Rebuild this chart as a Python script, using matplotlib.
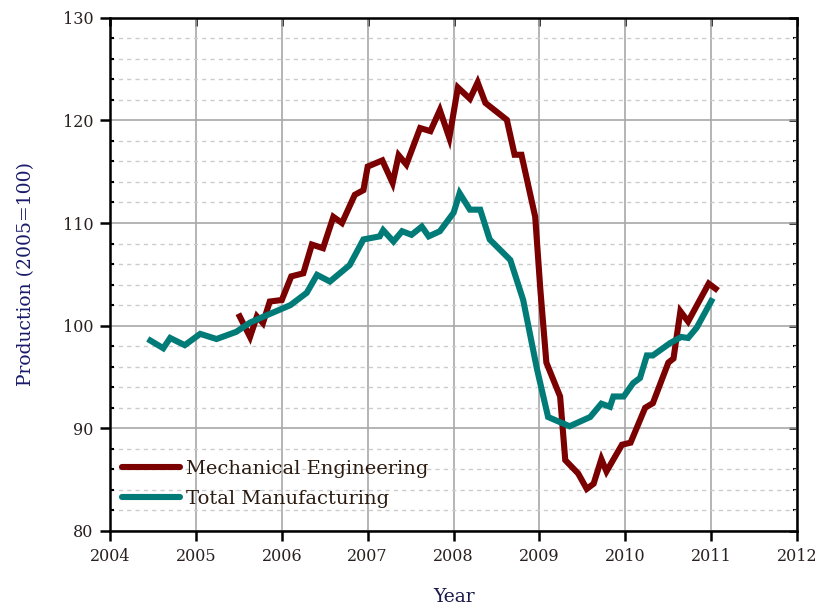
import matplotlib
matplotlib.use('Agg')
import matplotlib.pyplot as plt
from matplotlib.ticker import MultipleLocator

plt.rcParams.update({'font.family': 'serif'})
plt.rcParams.update({'font.serif': ['DejaVu Serif', 'Liberation Serif']})

# data (decimal year, index 2005=100)
tm_year = [2004.47, 2004.62, 2004.70, 2004.87, 2005.05, 2005.24, 2005.47, 2005.63,
           2005.82, 2006.10, 2006.29, 2006.41, 2006.56, 2006.79, 2006.95, 2007.14,
           2007.18, 2007.30, 2007.40, 2007.51, 2007.63, 2007.71, 2007.84, 2008.00,
           2008.07, 2008.19, 2008.31, 2008.42, 2008.66, 2008.81, 2008.97, 2009.10,
           2009.35, 2009.59, 2009.72, 2009.82, 2009.86, 2009.98, 2010.09, 2010.17,
           2010.25, 2010.32, 2010.52, 2010.65, 2010.73, 2010.83, 2011.00]
tm_val = [98.55, 97.8, 98.8, 98.1, 99.2, 98.7, 99.4, 100.3,
          101.0, 102.0, 103.2, 104.95, 104.3, 105.9, 108.4, 108.7,
          109.3, 108.2, 109.2, 108.85, 109.65, 108.7, 109.2, 111.0,
          112.9, 111.3, 111.3, 108.4, 106.4, 102.5, 95.8, 91.1,
          90.2, 91.1, 92.4, 92.1, 93.1, 93.1, 94.4, 94.9,
          97.1, 97.1, 98.3, 98.9, 98.8, 99.8, 102.4]

me_year = [2005.51, 2005.63, 2005.71, 2005.78, 2005.86, 2006.00, 2006.11, 2006.25,
           2006.35, 2006.48, 2006.60, 2006.70, 2006.85, 2006.95, 2007.00, 2007.17,
           2007.29, 2007.36, 2007.45, 2007.61, 2007.73, 2007.84, 2007.95, 2008.05,
           2008.19, 2008.28, 2008.37, 2008.62, 2008.71, 2008.79, 2008.95, 2009.01,
           2009.08, 2009.24, 2009.30, 2009.45, 2009.55, 2009.63, 2009.72, 2009.78,
           2009.96, 2010.06, 2010.23, 2010.32, 2010.50, 2010.56, 2010.64, 2010.73,
           2010.97, 2011.05]
me_val = [100.9, 98.9, 100.9, 100.25, 102.35, 102.5, 104.8, 105.1,
          107.9, 107.55, 110.6, 110.0, 112.75, 113.2, 115.5, 116.1,
          113.9, 116.6, 115.7, 119.25, 118.95, 121.0, 118.3, 123.2,
          122.1, 123.7, 121.7, 120.05, 116.65, 116.65, 110.6, 103.5,
          96.4, 93.1, 86.9, 85.6, 84.1, 84.6, 87.0, 85.8,
          88.4, 88.6, 92.0, 92.45, 96.4, 96.8, 101.4, 100.4,
          104.1, 103.6]

x_ticks = [2004, 2005, 2006, 2007, 2008, 2009, 2010, 2011, 2012]
y_ticks = [80, 90, 100, 110, 120, 130]

fig = plt.figure(figsize=(8.21, 6.11), dpi=100)
ax = fig.add_axes([0.134, 0.131, 0.837, 0.840])

ax.plot(me_year, me_val, color='#7b0000', lw=4.4, solid_joinstyle='miter',
        label='Mechanical Engineering', zorder=3)
ax.plot(tm_year, tm_val, color='#007b78', lw=4.4, solid_joinstyle='miter',
        label='Total Manufacturing', zorder=3)

ax.set_xlim(2004, 2012)
ax.set_ylim(80, 130)
ax.set_xticks(x_ticks)
ax.set_yticks(y_ticks)
ax.yaxis.set_minor_locator(MultipleLocator(2))

ax.grid(True, which='major', color='#a8a8a8', lw=1.2, ls='-')
ax.grid(True, which='minor', axis='y', color='#cccccc', lw=1.0, ls=(0, (3, 3)))
ax.set_axisbelow(True)

for s in ax.spines.values():
    s.set_linewidth(1.8)
    s.set_color('black')

ax.tick_params(which='major', direction='out', length=7, width=1.8, pad=5,
               labelsize=11.5, labelcolor='#2a2020')
ax.tick_params(axis='y', which='minor', direction='in', length=3, width=1.5)

top = ax.secondary_xaxis('top')
top.set_xticks(x_ticks)
top.tick_params(direction='in', length=6, width=1.8, labeltop=False)
right = ax.secondary_yaxis('right')
right.set_yticks(y_ticks)
right.yaxis.set_minor_locator(MultipleLocator(2))
right.tick_params(which='major', direction='in', length=6, width=1.8, labelright=False)
right.tick_params(which='minor', direction='in', length=3, width=1.5)

ax.set_xlabel('Year', fontsize=13.5, color='#1a1a4a', labelpad=17)
ax.set_ylabel('Production (2005=100)', fontsize=13.5, color='#1a1a6a', labelpad=20)

leg = ax.legend(loc='lower left', bbox_to_anchor=(0.017, 0.045), frameon=False,
                fontsize=14, handlelength=3.0, handletextpad=0.3,
                labelspacing=0.62, borderaxespad=0, borderpad=0)
for t in leg.get_texts():
    t.set_color('#2a1a10')
for ln in leg.get_lines():
    ln.set_solid_capstyle('round')

fig.savefig('out.png', dpi=100)
